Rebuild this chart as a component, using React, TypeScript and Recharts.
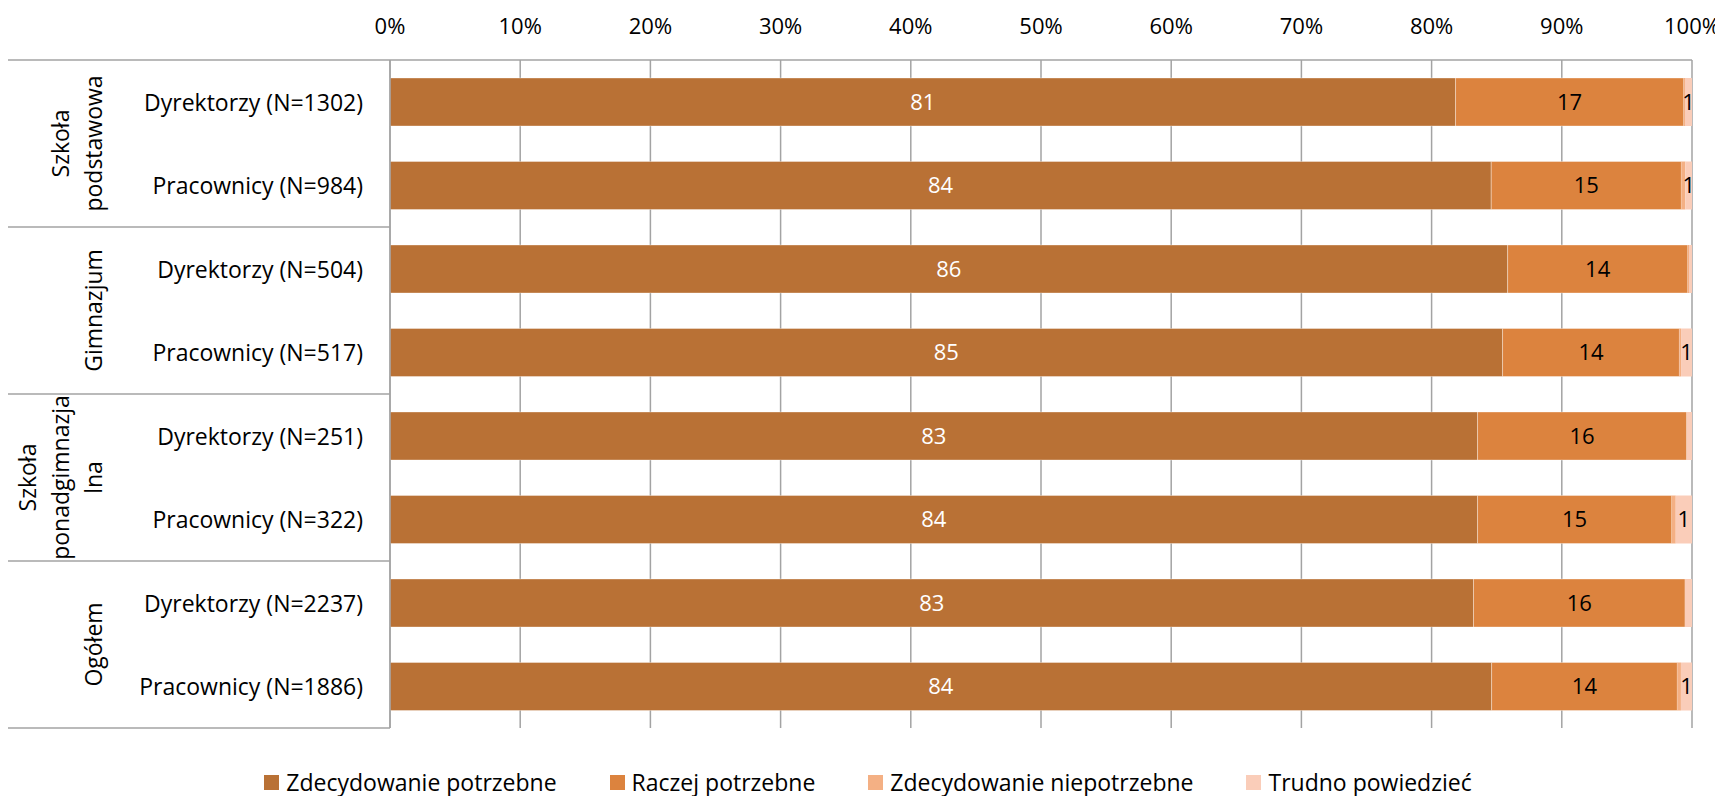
import React from 'react';
import { BarChart, Bar, XAxis, YAxis, CartesianGrid, Legend, LabelList } from 'recharts';

const rowLabels = [
  'Dyrektorzy (N=1302)',
  'Pracownicy (N=984)',
  'Dyrektorzy (N=504)',
  'Pracownicy (N=517)',
  'Dyrektorzy (N=251)',
  'Pracownicy (N=322)',
  'Dyrektorzy (N=2237)',
  'Pracownicy (N=1886)',
];
const groupLabels = [['Szkoła', 'podstawowa'], ['Gimnazjum'], ['Szkoła', 'ponadgimnazja', 'lna'], ['Ogółem']];
const seriesNames = ['Zdecydowanie potrzebne', 'Raczej potrzebne', 'Zdecydowanie niepotrzebne', 'Trudno powiedzieć'];
const seriesColors = ['#B97135', '#DC833E', '#F4B084', '#FACDB9'];

const zdecydowaniePotrzebne = [81.84, 84.58, 85.84, 85.45, 83.53, 83.53, 83.22, 84.61];
const raczejPotrzebne = [17.52, 14.6, 13.83, 13.58, 16.06, 14.91, 16.24, 14.26];
const zdecydowanieNiepotrzebne = [0.1, 0.31, 0.1, 0.13, 0, 0.31, 0, 0.28];
const trudnoPowiedziec = [0.54, 0.51, 0.23, 0.84, 0.41, 1.25, 0.54, 0.85];

const labelsZP = ['81', '84', '86', '85', '83', '84', '83', '84'];
const labelsRP = ['17', '15', '14', '14', '16', '15', '16', '14'];
const labelsTP = ['1', '1', '', '1', '', '1', '', '1'];

const xTicks = [0, 10, 20, 30, 40, 50, 60, 70, 80, 90, 100];

const data = rowLabels.map((row, i) => ({
  row,
  zp: zdecydowaniePotrzebne[i],
  rp: raczejPotrzebne[i],
  zn: zdecydowanieNiepotrzebne[i],
  tp: trudnoPowiedziec[i],
  zpL: labelsZP[i],
  rpL: labelsRP[i],
  tpL: labelsTP[i],
}));

const FONT = '"Open Sans", sans-serif';
const GRID = '#A3A3A3';

function XTick(props: any) {
  const { x, y, payload } = props;
  return (
    <text x={x} y={y - 26} textAnchor="middle" fontFamily={FONT} fontSize={22} fill="#000">
      {payload.value}%
    </text>
  );
}

function RowTick(props: any) {
  const { x, y, payload, index } = props;
  const half = payload && payload.offset > 0 ? payload.offset : 41.75;
  const axisX = x + 27;
  const els: any[] = [];
  els.push(
    <text key="t" x={x} y={y} textAnchor="end" dominantBaseline="central" fontFamily={FONT} fontSize={23} fill="#000">
      {payload.value}
    </text>
  );
  if (index % 2 === 0) {
    els.push(<line key="l" x1={0} x2={axisX} y1={y - half} y2={y - half} stroke={GRID} strokeWidth={1.5} />);
    const lines = groupLabels[index / 2] || [];
    const cy = y + half;
    lines.forEach((ln, j) => {
      const cx = 85 - (lines.length - 1 - j) * 33;
      els.push(
        <text
          key={'g' + j}
          transform={`translate(${cx},${cy}) rotate(-90)`}
          textAnchor="middle"
          dominantBaseline="central"
          fontFamily={FONT}
          fontSize={23}
          fill="#000"
        >
          {ln}
        </text>
      );
    });
  }
  if (index === rowLabels.length - 1) {
    els.push(<line key="lb" x1={0} x2={axisX} y1={y + half} y2={y + half} stroke={GRID} strokeWidth={1.5} />);
  }
  return <g>{els}</g>;
}

function LegendContent() {
  return (
    <div
      style={{
        display: 'flex',
        justifyContent: 'center',
        alignItems: 'flex-end',
        height: 68,
        paddingLeft: 36,
        boxSizing: 'border-box',
        gap: 53,
        fontFamily: FONT,
        fontSize: 23,
        color: '#000',
      }}
    >
      {seriesNames.map((n, i) => (
        <div key={n} style={{ display: 'flex', alignItems: 'center', height: 28 }}>
          <span style={{ display: 'inline-block', width: 15, height: 15, background: seriesColors[i], marginRight: 7 }} />
          <span style={{ lineHeight: '28px', whiteSpace: 'nowrap' }}>{n}</span>
        </div>
      ))}
    </div>
  );
}

export default function App() {
  return (
    <div>
      <style>{`html,body{overflow:hidden}`}</style>
      <BarChart
        width={1715}
        height={788}
        data={data}
        layout="vertical"
        margin={{ top: 0, right: 31, bottom: 0, left: 0 }}
      >
        <CartesianGrid horizontal={false} vertical={true} stroke={GRID} strokeWidth={1.5} />
        <XAxis
          type="number"
          orientation="top"
          domain={[0, 100]}
          ticks={xTicks}
          height={52}
          tickSize={0}
          tickMargin={0}
          tickLine={false}
          axisLine={{ stroke: GRID, strokeWidth: 1.5 }}
          tick={<XTick />}
          interval={0}
        />
        <YAxis
          type="category"
          dataKey="row"
          width={382}
          tickSize={0}
          tickMargin={27}
          tickLine={false}
          axisLine={{ stroke: GRID, strokeWidth: 1.5 }}
          tick={<RowTick />}
          interval={0}
        />
        <Legend verticalAlign="bottom" height={68} content={<LegendContent />} />
        <Bar dataKey="zp" name={seriesNames[0]} stackId="s" fill={seriesColors[0]} barSize={48} isAnimationActive={false} stroke="#ffffff" strokeOpacity={0.35} strokeWidth={1}>
          <LabelList dataKey="zpL" position="center" fill="#ffffff" fontSize={22} fontFamily={FONT} />
        </Bar>
        <Bar dataKey="rp" name={seriesNames[1]} stackId="s" fill={seriesColors[1]} barSize={48} isAnimationActive={false} stroke="#ffffff" strokeOpacity={0.35} strokeWidth={1}>
          <LabelList dataKey="rpL" position="center" fill="#000000" fontSize={22} fontFamily={FONT} />
        </Bar>
        <Bar dataKey="zn" name={seriesNames[2]} stackId="s" fill={seriesColors[2]} barSize={48} isAnimationActive={false} />
        <Bar dataKey="tp" name={seriesNames[3]} stackId="s" fill={seriesColors[3]} barSize={48} isAnimationActive={false}>
          <LabelList dataKey="tpL" position="center" fill="#000000" fontSize={22} fontFamily={FONT} />
        </Bar>
      </BarChart>
    </div>
  );
}
